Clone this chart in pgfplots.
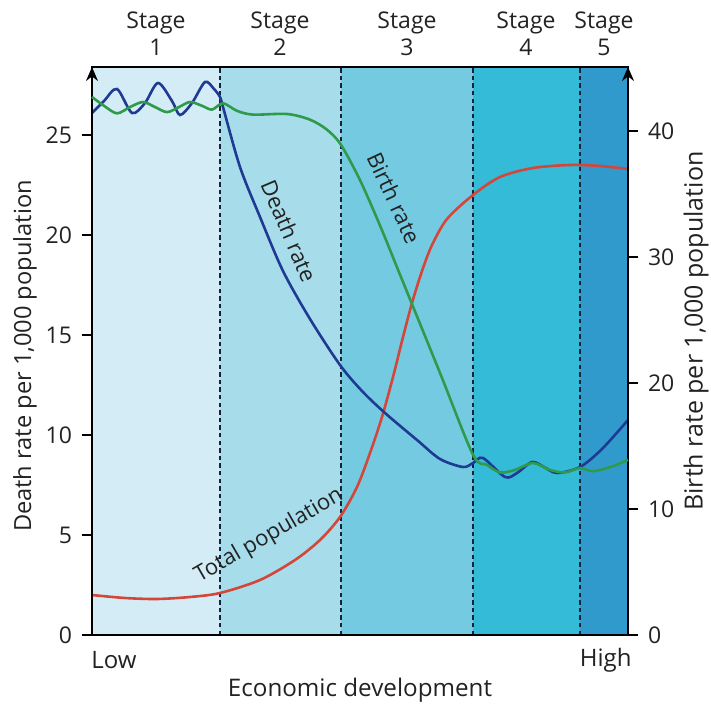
\documentclass[border=0pt]{standalone}
\usepackage{pgfplots}
\pgfplotsset{compat=1.18}
\usepackage{fontspec}
\setmainfont{Open Sans}
\usetikzlibrary{arrows.meta,calc}
\definecolor{bandA}{HTML}{D4ECF5}
\definecolor{bandB}{HTML}{A7DCEB}
\definecolor{bandC}{HTML}{74CBE1}
\definecolor{bandD}{HTML}{33BBD8}
\definecolor{bandE}{HTML}{2F9ACB}
\definecolor{dashcol}{HTML}{14233A}
\definecolor{dblue}{HTML}{1F3A93}
\definecolor{bgreen}{HTML}{2F9A4A}
\definecolor{pred}{HTML}{D4463A}
\definecolor{txt}{HTML}{222222}
\begin{document}
\fontsize{11.5}{13.5}\selectfont
\begin{tikzpicture}
\begin{axis}[name=ax,
  scale only axis, width=268pt, height=284pt,
  xmin=0, xmax=536, ymin=0, ymax=28.4,
  axis on top, clip=false,
  xtick=\empty,
  ytick={0,5,...,25}, ytick pos=left, tick align=outside,
  major tick length=5pt,
  every tick/.style={black, line width=0.8pt},
  axis line style={black, line width=0.8pt},
  /pgf/number format/assume math mode=true,
  tick label style={font=\fontsize{11.5}{13.5}\selectfont, text=txt},
  yticklabel style={xshift=-1pt},
  ylabel={Death rate per 1,000 population},
  ylabel style={at={(axis description cs:-0.125,0.491)}, anchor=center, text=txt, font=\fontsize{11.8}{14}\selectfont},
  xlabel={Economic development},
  xlabel style={at={(axis description cs:0.5,0)}, anchor=center, yshift=-27.5pt, text=txt, font=\fontsize{12.1}{14}\selectfont},
]
% stage bands
\addplot[fill=bandA, draw=none] coordinates {(0,0) (128,0) (128,28.4) (0,28.4)} -- cycle;
\addplot[fill=bandB, draw=none] coordinates {(128,0) (249,0) (249,28.4) (128,28.4)} -- cycle;
\addplot[fill=bandC, draw=none] coordinates {(249,0) (381,0) (381,28.4) (249,28.4)} -- cycle;
\addplot[fill=bandD, draw=none] coordinates {(381,0) (488,0) (488,28.4) (381,28.4)} -- cycle;
\addplot[fill=bandE, draw=none] coordinates {(488,0) (536,0) (536,28.4) (488,28.4)} -- cycle;
% stage boundaries
\addplot[dashcol, line width=1.2pt, dash pattern=on 2.2pt off 1.6pt] coordinates {(128,0) (128,28.4)};
\addplot[dashcol, line width=1.2pt, dash pattern=on 2.2pt off 1.6pt] coordinates {(249,0) (249,28.4)};
\addplot[dashcol, line width=1.2pt, dash pattern=on 2.2pt off 1.6pt] coordinates {(381,0) (381,28.4)};
\addplot[dashcol, line width=1.2pt, dash pattern=on 2.2pt off 1.6pt] coordinates {(488,0) (488,28.4)};
% total population
\addplot[pred, line width=1.3pt, smooth] coordinates {
(0,2.0) (33,1.85) (65,1.8) (98,1.9) (128,2.1) (168,2.75) (203,3.75) (228,4.75) (248,5.9)
(265,7.4) (278,9.1) (290,10.9) (301,12.9) (311,14.9) (320,16.6) (330,18.2) (340,19.5)
(355,20.8) (381,22.0) (408,22.9) (441,23.35) (478,23.5) (508,23.45) (536,23.3)};
% death rate
\addplot[dblue, line width=1.3pt, smooth] coordinates {
(0,26.1) (12,26.7) (25,27.3) (40,26.1) (53,26.6) (66,27.6) (80,26.7) (88,26.0) (100,26.6)
(113,27.65) (122,27.3) (128,26.9) (131,26.4) (148,23.4) (168,20.9) (191,18.2) (218,15.8)
(248,13.5) (270,12.2) (293,11.1) (325,9.75) (348,8.8) (371,8.4) (381,8.6) (391,8.85)
(413,7.9) (425,8.1) (440,8.65) (452,8.4) (465,8.1) (488,8.4) (510,9.3) (536,10.75)};
% curve labels
\node[rotate=-67, text=txt, font=\fontsize{11}{13}\selectfont] at (axis cs:197,20.2) {Death rate};
\node[rotate=-65, text=txt, font=\fontsize{11}{13}\selectfont] at (axis cs:302,21.85) {Birth rate};
\node[rotate=30, text=txt, font=\fontsize{11}{13}\selectfont] at (axis cs:177,4.95) {Total population};
% stage labels
\node[align=center, text=txt] at ($(axis cs:64,28.4)+(0,16.5pt)$) {Stage\\1};
\node[align=center, text=txt] at ($(axis cs:188,28.4)+(0,16.5pt)$) {Stage\\2};
\node[align=center, text=txt] at ($(axis cs:315,28.4)+(0,16.5pt)$) {Stage\\3};
\node[align=center, text=txt] at ($(axis cs:434,28.4)+(0,16.5pt)$) {Stage\\4};
\node[align=center, text=txt] at ($(axis cs:512,28.4)+(0,16.5pt)$) {Stage\\5};
\node[anchor=west, text=txt, inner xsep=0pt, font=\fontsize{12}{14}\selectfont] at ($(axis cs:0,0)+(-0.5pt,-12.5pt)$) {Low};
\node[anchor=east, text=txt, inner xsep=0pt, font=\fontsize{12}{14}\selectfont] at ($(axis cs:536,0)+(2pt,-12.5pt)$) {High};
% arrow heads
\draw[line width=0.8pt, -{Stealth[length=7pt,width=6pt]}] (rel axis cs:0,0.95) -- (rel axis cs:0,1.0);
\draw[line width=0.8pt, -{Stealth[length=7pt,width=6pt]}] (rel axis cs:1,0.95) -- (rel axis cs:1,1.0);
\end{axis}
\begin{axis}[
  at={(ax.south west)}, anchor=south west,
  scale only axis, width=268pt, height=284pt,
  xmin=0, xmax=536, ymin=0, ymax=45.08,
  hide x axis, axis y line*=right, clip=false,
  ytick={0,10,...,40}, tick align=outside,
  major tick length=5pt,
  every tick/.style={black, line width=0.8pt},
  axis line style={black, line width=0.8pt, -},
  /pgf/number format/assume math mode=true,
  tick label style={font=\fontsize{11.5}{13.5}\selectfont, text=txt},
  yticklabel style={xshift=1pt},
  ylabel={Birth rate per 1,000 population},
  ylabel style={at={(axis description cs:1.127,0.535)}, anchor=center, text=txt, font=\fontsize{12.5}{14}\selectfont},
]
\addplot[bgreen, line width=1.3pt, smooth] coordinates {
(0,42.7) (12,42.0) (25,41.4) (38,41.9) (51,42.3) (63,41.9) (75,41.5) (87,41.9) (98,42.3)
(110,42.0) (120,41.7) (131,42.2) (145,41.6) (161,41.3) (195,41.35) (218,40.9) (235,40.1)
(249,38.9) (268,36.1) (288,32.5) (308,28.6) (348,20.8) (381,14.3) (395,13.5)
(408,12.9) (423,13.1) (441,13.65) (458,13.1) (473,12.9) (488,13.25) (501,13.0) (521,13.4) (536,13.9)};
\end{axis}
\pgfresetboundingbox
\path ($(ax.south west)+(-46pt,-37.5pt)$) rectangle ($(ax.north east)+(41pt,33.5pt)$);
\end{tikzpicture}
\end{document}
